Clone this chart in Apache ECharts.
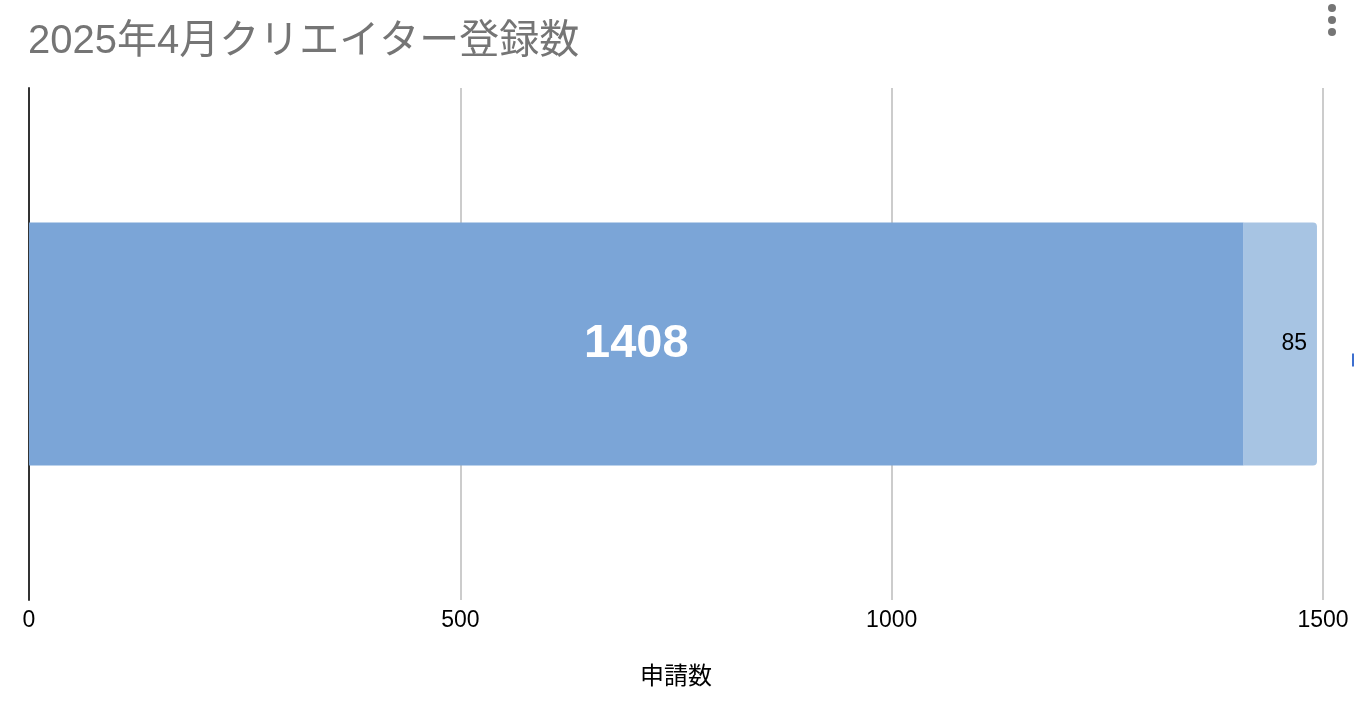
<!DOCTYPE html>
<html>
<head>
<meta charset="utf-8">
<style>
  html, body { margin: 0; padding: 0; background: #fff; }
  #main { width: 1354px; height: 710px; }
</style>
</head>
<body>
<div id="main"></div>
<script src="https://cdn.jsdelivr.net/npm/echarts@6/dist/echarts.min.js"></script>
<script>
  // データ
  var categories = ['2025年4月'];
  var seriesNames = ['登録数', '申請中'];
  var registered = [1408];
  var pending = [85];
  var axisMin = 0, axisMax = 1500, axisStep = 500;

  var FONT = "'Liberation Sans', Arial, 'Noto Sans CJK JP', sans-serif";

  var myChart = echarts.init(document.getElementById('main'));

  var option = {
    backgroundColor: '#fff',
    textStyle: { fontFamily: FONT },
    title: {
      text: '2025年4月クリエイター登録数',
      left: 23,
      top: 17,
      textStyle: { fontFamily: FONT, fontSize: 40, fontWeight: 'normal', color: '#757575' }
    },
    // 右端で切れている凡例
    legend: {
      data: [seriesNames[0]],
      left: 1352,
      top: 352,
      padding: 0,
      icon: 'rect',
      itemWidth: 14,
      itemHeight: 13,
      itemStyle: { color: '#3d6fcf' },
      textStyle: { fontSize: 16, color: '#222' }
    },
    grid: { left: 29, right: 31, top: 88, bottom: 110 },
    xAxis: {
      type: 'value',
      min: axisMin,
      max: axisMax,
      interval: axisStep,
      name: '申請数',
      nameLocation: 'middle',
      nameGap: 65,
      nameTextStyle: { fontFamily: FONT, fontSize: 24, color: '#000' },
      axisLine: { show: false },
      axisTick: { show: false },
      axisLabel: {
        fontFamily: FONT, fontSize: 23, color: '#000', margin: 9,
        formatter: function (v) { return String(v); }
      },
      splitLine: { show: true, lineStyle: { color: '#cccccc', width: 2 } }
    },
    yAxis: {
      type: 'category',
      data: categories,
      axisLine: { show: true, onZero: false, lineStyle: { color: '#333', width: 2 } },
      axisTick: { show: false },
      axisLabel: { show: false },
      splitLine: { show: false }
    },
    series: [
      {
        name: seriesNames[0],
        type: 'bar',
        stack: 'total',
        barWidth: '47.5%',
        data: registered,
        itemStyle: { color: '#7ba5d7' },
        label: {
          show: true,
          position: 'inside',
          fontFamily: FONT,
          fontSize: 47,
          fontWeight: 'bold',
          color: '#fff'
        }
      },
      {
        name: seriesNames[1],
        type: 'bar',
        stack: 'total',
        data: pending,
        itemStyle: { color: '#a7c4e3', borderRadius: [0, 4, 4, 0] },
        label: {
          show: true,
          position: 'insideRight',
          distance: 10,
          fontFamily: FONT,
          fontSize: 23,
          color: '#000'
        }
      }
    ],
    // 右上のメニューアイコン
    graphic: [
      { type: 'circle', shape: { cx: 1332, cy: 8, r: 4 }, style: { fill: '#757575' } },
      { type: 'circle', shape: { cx: 1332, cy: 20, r: 4 }, style: { fill: '#757575' } },
      { type: 'circle', shape: { cx: 1332, cy: 32, r: 4 }, style: { fill: '#757575' } }
    ]
  };

  myChart.setOption(option);
</script>
</body>
</html>
